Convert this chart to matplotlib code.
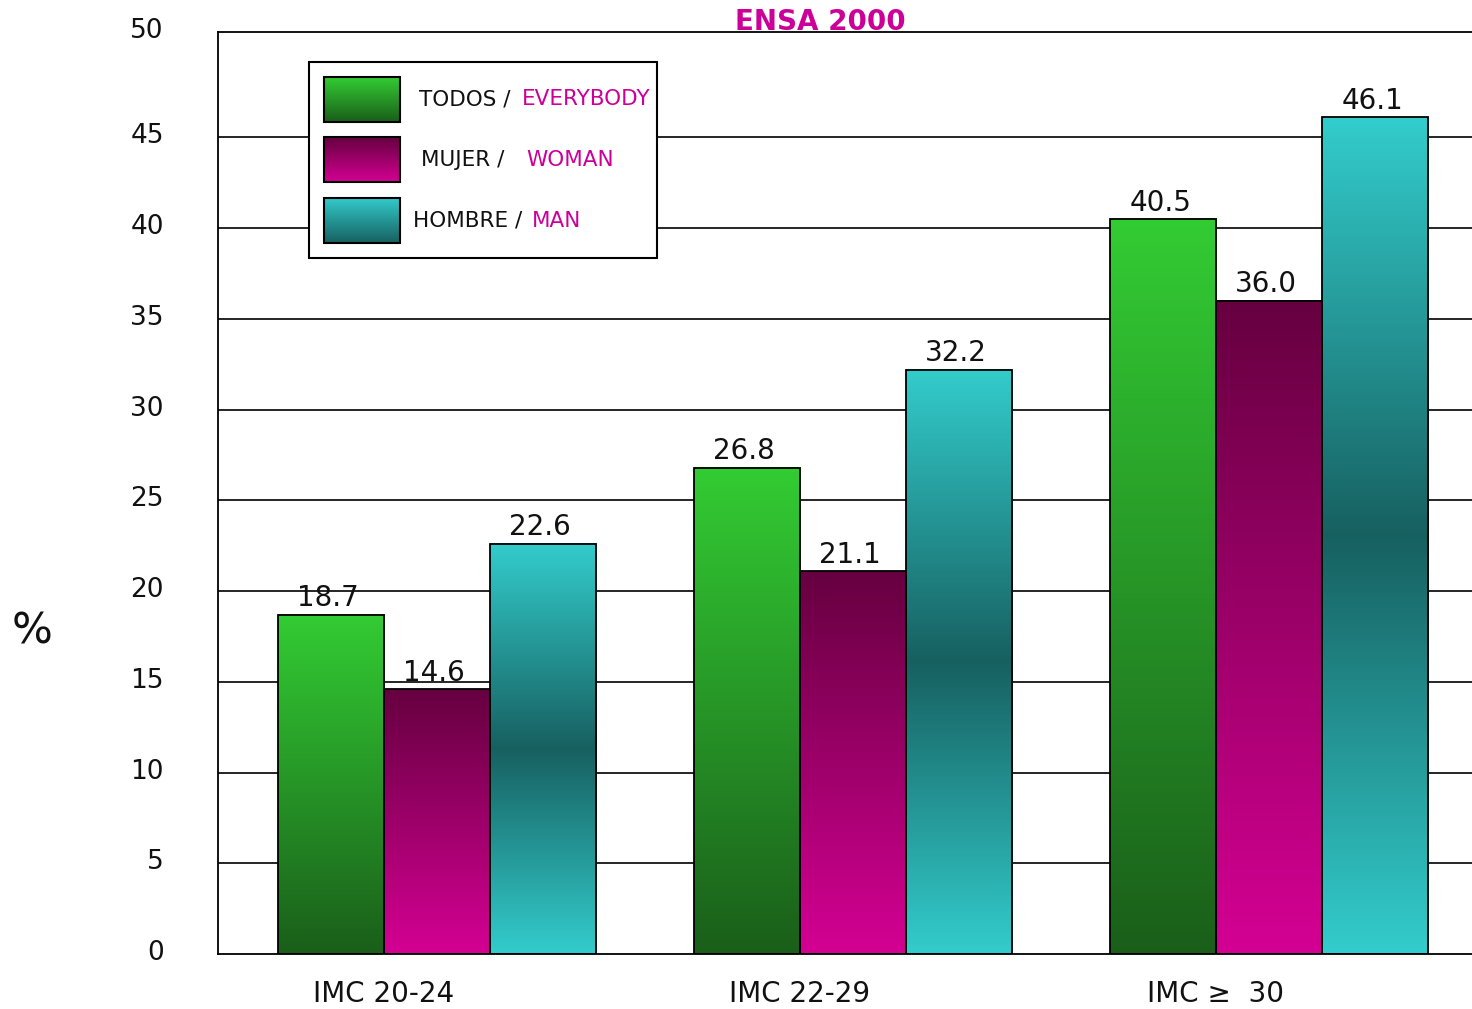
import numpy as np
import matplotlib.pyplot as plt
import matplotlib.transforms as mtransforms
from matplotlib.colors import LinearSegmentedColormap
from matplotlib.patches import Rectangle

# data
groups = ["IMC 20-24", "IMC 22-29", "IMC \u2265  30"]
todos = [18.7, 26.8, 40.5]
mujer = [14.6, 21.1, 36.0]
hombre = [22.6, 32.2, 46.1]
ytick_vals = [0, 5, 10, 15, 20, 25, 30, 35, 40, 45, 50]

#gradient maps (bottom -> top)
cm_green = LinearSegmentedColormap.from_list("g", ["#1A5E1A", "#33CC33"])
cm_mag = LinearSegmentedColormap.from_list("m", ["#D40093", "#660040"])
cm_cyan = LinearSegmentedColormap.from_list("c", ["#33CCCC", "#176060", "#33CCCC"])
grad = np.linspace(0, 1, 256).reshape(-1, 1)

fig = plt.figure(figsize=(14.72, 10.09), dpi=100)
ax = fig.add_axes([218/1472, 55/1009, 1254/1472, 922/1009])

w = 0.255
x = np.arange(len(groups))
ytop = 50.8

# grid lines behind everything
for v in ytick_vals[1:-1]:
    ax.axhline(v, color="black", lw=1.2, zorder=1)

series = [(todos, cm_green, -w), (mujer, cm_mag, 0.0), (hombre, cm_cyan, w)]
for vals, cmap, off in series:
    bars = ax.bar(x + off, vals, width=w, facecolor="none", edgecolor="black", lw=1.3, zorder=3)
    for b, v in zip(bars, vals):
        x0 = b.get_x()
        ax.imshow(grad, cmap=cmap, origin="lower", aspect="auto",
                  extent=[x0, x0 + w, 0, v], zorder=2, interpolation="bicubic")
        ax.annotate(f"{v:.1f}", (x0 + w/2, v), xytext=(-2, 6), textcoords="offset points",
                    ha="center", va="baseline", fontsize=20, color="#111111", zorder=4)

ax.set_xlim(-0.526, 2.488)
ax.set_ylim(0, ytop)

ax.set_xticks(x - w/2, groups)
yt_pos = ytick_vals[:-1] + [ytop]
ax.set_yticks(yt_pos, [str(v) for v in ytick_vals])
ax.tick_params(axis="x", length=0, pad=19, labelsize=20, labelcolor="#111111")
ax.tick_params(axis="y", length=0, pad=39, labelsize=19, labelcolor="#111111")
# y labels sit a little above their lines
shift = mtransforms.ScaledTranslation(0, 4/100, fig.dpi_scale_trans)
for lab in ax.get_yticklabels():
    lab.set_transform(lab.get_transform() + shift)
for side in ["left", "bottom", "top"]:
    ax.spines[side].set_linewidth(1.3)
ax.spines["right"].set_visible(False)

# legend drawn by hand
ax.add_patch(Rectangle((0.0726, 0.755), 0.2775, 0.2125, transform=ax.transAxes,
                       facecolor="white", edgecolor="black", lw=1.5, zorder=5))
sw_x0, sw_x1 = 0.0846, 0.1451
rows = [
    (0.9024, 0.9512, cm_green, (0.0, 1.0), "TODOS / ", "EVERYBODY", 419, 522),
    (0.8373, 0.8861, cm_mag, (0.0, 1.0), "MUJER / ", "WOMAN", 421, 526),
    (0.7711, 0.8200, cm_cyan, (0.5, 1.0), "HOMBRE / ", "MAN", 413, 532),
]
for y0, y1, cmap, (g0, g1), txt_es, txt_en, px_es, px_en in rows:
    g = np.linspace(g0, g1, 128).reshape(-1, 1)
    ax.imshow(g, cmap=cmap, vmin=0, vmax=1, origin="lower", aspect="auto",
              extent=[sw_x0, sw_x1, y0, y1], transform=ax.transAxes, zorder=6)
    ax.add_patch(Rectangle((sw_x0, y0), sw_x1 - sw_x0, y1 - y0, transform=ax.transAxes,
                           facecolor="none", edgecolor="black", lw=1.5, zorder=7))
    ym = (y0 + y1) / 2
    ax.text((px_es - 218)/1254, ym, txt_es, transform=ax.transAxes, fontsize=15.5,
            va="center", ha="left", color="#111111", zorder=8)
    ax.text((px_en - 218)/1254, ym, txt_en, transform=ax.transAxes, fontsize=15.5,
            va="center", ha="left", color="#CC0099", zorder=8)

ax.set_xlim(-0.526, 2.488)
ax.set_ylim(0, ytop)

fig.text(820/1472, 1 - 22/1009, "ENSA 2000", ha="center", va="center",
         fontsize=20, fontweight="bold", color="#CC0099")
fig.text(32/1472, 1 - 632/1009, "%", ha="center", va="center", fontsize=31, color="#111111")

fig.savefig("out.png", dpi=100)
